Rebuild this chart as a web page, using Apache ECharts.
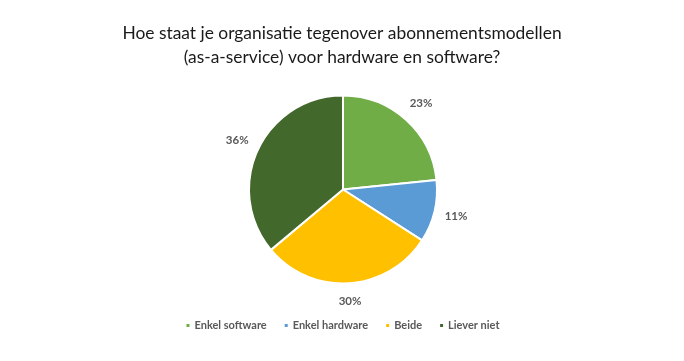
<!DOCTYPE html>
<html><head><meta charset="utf-8">
<script src="https://cdn.jsdelivr.net/npm/echarts@6/dist/echarts.min.js"></script>
<style>html,body{margin:0;padding:0;background:#fff}#c{width:684px;height:361px}</style>
</head><body><div id="c"></div>
<script>
var categories = ['Enkel software', 'Enkel hardware', 'Beide', 'Liever niet'];
var values = [23.4, 10.7, 29.8, 36.1];
var colors = ['#70AD47', '#5B9BD5', '#FFC000', '#43682B'];
var titleText = 'Hoe staat je organisatie tegenover abonnementsmodellen\n(as-a-service) voor hardware en software?';

var total = values.reduce(function (a, b) { return a + b; }, 0);
var cum = 0;
var R = 94, baseLabelR = 113, gap = 7.5, halfW = 10.5, halfH = 6.5;
var labelData = categories.map(function (n, i) {
  var mid = (cum + values[i] / 2) / total * 2 * Math.PI;
  cum += values[i];
  var s = Math.sin(mid), c = Math.cos(mid);
  var want = R + gap + Math.abs(s) * halfW + Math.abs(c) * halfH;
  var d = want - baseLabelR;
  return { name: n, value: values[i], label: { offset: [d * s, -d * c] } };
});
var data = categories.map(function (n, i) { return { name: n, value: values[i] }; });
var font = 'Lato, "Liberation Sans", sans-serif';
var chart = echarts.init(document.getElementById('c'));
chart.setOption({
  animation: false,
  color: colors,
  title: {
    text: titleText, left: 'center', top: 16,
    textStyle: { fontFamily: font, fontSize: 17.4, fontWeight: 'normal', color: '#1a1a1a', lineHeight: 24 }
  },
  legend: {
    data: categories, bottom: 25, left: 'center',
    icon: 'rect', itemWidth: 5, itemHeight: 5, itemGap: 16,
    textStyle: { fontFamily: font, fontSize: 11, fontWeight: 'bold', color: '#595959', padding: [0, 0, 0, -1] }
  },
  series: [{
    type: 'pie', center: [343, 189.5], radius: [0, R], startAngle: 90, clockwise: true,
    data: data, label: { show: false }, labelLine: { show: false },
    itemStyle: { borderColor: '#fff', borderWidth: 2 },
    emphasis: { disabled: true }, silent: true
  }, {
    type: 'pie', center: [343, 189.5], radius: [R, 2 * baseLabelR - R], startAngle: 90, clockwise: true,
    data: labelData, silent: true, emphasis: { disabled: true },
    itemStyle: { color: 'rgba(0,0,0,0)', borderWidth: 0 },
    label: { show: true, position: 'inside', formatter: function (p) { return Math.round(p.value) + '%'; },
      fontFamily: font, fontSize: 11.5, fontWeight: 'bold', color: '#595959' },
    labelLine: { show: false }
  }]
});
</script></body></html>
